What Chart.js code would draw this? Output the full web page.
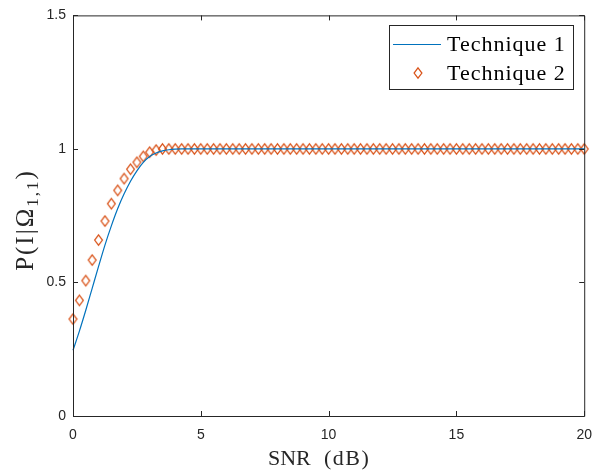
<!DOCTYPE html>
<html>
<head>
<meta charset="utf-8">
<script src="https://cdn.jsdelivr.net/npm/chart.js@4"></script>
<style>
  body { margin: 0; background: #fff; }
  #wrap { width: 603px; height: 471px; }
</style>
</head>
<body>
<div id="wrap"><canvas id="chart" width="603" height="471"></canvas></div>
<script>
const snrDb = [0, 0.25, 0.5, 0.75, 1, 1.25, 1.5, 1.75, 2, 2.25, 2.5, 2.75, 3, 3.25, 3.5, 3.75,
  4, 4.25, 4.5, 4.75, 5, 5.25, 5.5, 5.75, 6, 6.25, 6.5, 6.75, 7, 7.25, 7.5, 7.75,
  8, 8.25, 8.5, 8.75, 9, 9.25, 9.5, 9.75, 10, 10.25, 10.5, 10.75, 11, 11.25, 11.5, 11.75,
  12, 12.25, 12.5, 12.75, 13, 13.25, 13.5, 13.75, 14, 14.25, 14.5, 14.75, 15, 15.25, 15.5, 15.75,
  16, 16.25, 16.5, 16.75, 17, 17.25, 17.5, 17.75, 18, 18.25, 18.5, 18.75, 19, 19.25, 19.5, 19.75, 20];

const technique1 = [0.246, 0.318, 0.396, 0.478, 0.56, 0.64, 0.712, 0.777, 0.832, 0.879, 0.918, 0.95, 0.972, 0.985, 0.993, 0.997,
  0.999, 1, 1, 1, 1, 1, 1, 1, 1, 1, 1, 1, 1, 1, 1, 1,
  1, 1, 1, 1, 1, 1, 1, 1, 1, 1, 1, 1, 1, 1, 1, 1,
  1, 1, 1, 1, 1, 1, 1, 1, 1, 1, 1, 1, 1, 1, 1, 1,
  1, 1, 1, 1, 1, 1, 1, 1, 1, 1, 1, 1, 1, 1, 1, 1, 1];

const technique2 = [0.363, 0.433, 0.507, 0.584, 0.659, 0.73, 0.795, 0.845, 0.889, 0.924, 0.95, 0.972, 0.988, 0.996, 1, 1,
  1, 1, 1, 1, 1, 1, 1, 1, 1, 1, 1, 1, 1, 1, 1, 1,
  1, 1, 1, 1, 1, 1, 1, 1, 1, 1, 1, 1, 1, 1, 1, 1,
  1, 1, 1, 1, 1, 1, 1, 1, 1, 1, 1, 1, 1, 1, 1, 1,
  1, 1, 1, 1, 1, 1, 1, 1, 1, 1, 1, 1, 1, 1, 1, 1, 1];

const seriesLabels = ['Technique 1', 'Technique 2'];
const xTicks = [0, 5, 10, 15, 20];
const yTicks = [0, 0.5, 1, 1.5];

const axisColor = '#262626';
const serif = '"Liberation Serif", "DejaVu Serif", serif';
const sans = '"Liberation Sans", Arial, sans-serif';
const blue = '#0072BD';
const orange = '#D95319';

// MATLAB diamond marker: a bit taller than wide
function diamondPath(ctx, cx, cy) {
  ctx.beginPath();
  ctx.moveTo(cx, cy - 5.2);
  ctx.lineTo(cx + 3.9, cy);
  ctx.lineTo(cx, cy + 5.2);
  ctx.lineTo(cx - 3.9, cy);
  ctx.closePath();
}
const diamond = document.createElement('canvas');
diamond.width = 11; diamond.height = 14;
(function () {
  const c = diamond.getContext('2d');
  c.strokeStyle = orange;
  c.lineWidth = 1.25;
  diamondPath(c, 5.5, 7);
  c.stroke();
})();

function spacedText(ctx, text, x, y, spacing) {
  ctx.letterSpacing = spacing + 'px';
  ctx.fillText(text, x, y);
  const w = ctx.measureText(text).width;
  ctx.letterSpacing = '0px';
  return w;
}

const matlabPlugin = {
  id: 'matlab',
  afterDraw(chart) {
    const ctx = chart.ctx;
    const a = chart.chartArea;
    const xs = chart.scales.x, ys = chart.scales.y;
    ctx.save();
    ctx.strokeStyle = axisColor;
    ctx.lineWidth = 1;
    ctx.beginPath();
    ctx.rect(a.left + 0.5, a.top + 0.5, a.right - a.left, a.bottom - a.top);
    xTicks.forEach(v => {
      const px = Math.round(xs.getPixelForValue(v)) + 0.5;
      ctx.moveTo(px, a.bottom); ctx.lineTo(px, a.bottom - 5);
      ctx.moveTo(px, a.top); ctx.lineTo(px, a.top + 5);
    });
    yTicks.forEach(v => {
      const py = Math.round(ys.getPixelForValue(v)) + 0.5;
      ctx.moveTo(a.left, py); ctx.lineTo(a.left + 5, py);
      ctx.moveTo(a.right, py); ctx.lineTo(a.right - 5, py);
    });
    ctx.stroke();

    // x axis title
    ctx.fillStyle = axisColor;
    ctx.textBaseline = 'alphabetic';
    ctx.textAlign = 'left';
    ctx.font = '22px ' + serif;
    spacedText(ctx, 'SNR', 268, 465, 0);
    spacedText(ctx, '(dB)', 324, 465, 1.5);

    // y axis title: P(I|Ω_{1,1})
    ctx.save();
    ctx.translate(33, 220);
    ctx.rotate(-Math.PI / 2);
    const big = '25px ' + serif, small = '17px ' + serif;
    ctx.font = big;
    ctx.letterSpacing = '2px';
    const p1 = 'P(I|Ω';
    const w1 = ctx.measureText(p1).width;
    ctx.font = small;
    const w2 = ctx.measureText('1,1').width;
    ctx.font = big;
    const w3 = ctx.measureText(')').width;
    const x0 = -(w1 + w2 + w3) / 2;
    ctx.fillText(p1, x0, 0);
    ctx.font = small;
    ctx.fillText('1,1', x0 + w1, 5);
    ctx.font = big;
    ctx.fillText(')', x0 + w1 + w2, 0);
    ctx.restore();
    ctx.restore();

    // legend
    ctx.save();
    const lx = 389, ly = 25, lw = 184, lh = 64;
    ctx.fillStyle = '#fff';
    ctx.fillRect(lx, ly, lw, lh);
    ctx.strokeStyle = axisColor;
    ctx.lineWidth = 1;
    ctx.strokeRect(lx + 0.5, ly + 0.5, lw, lh);
    ctx.font = '22px ' + serif;
    ctx.textBaseline = 'middle';
    chart.data.datasets.forEach((ds, i) => {
      const cy = ly + 19 + i * 29;
      ctx.strokeStyle = ds.borderColor;
      if (i === 0) {
        ctx.beginPath();
        ctx.moveTo(lx + 4, cy + 0.5); ctx.lineTo(lx + 52, cy + 0.5);
        ctx.stroke();
      } else {
        ctx.lineWidth = 1.25;
        diamondPath(ctx, lx + 29, cy);
        ctx.stroke();
        ctx.lineWidth = 1;
      }
      ctx.fillStyle = '#000';
      spacedText(ctx, ds.label, lx + 58, cy + 1, 1);
    });
    ctx.restore();
  }
};

new Chart(document.getElementById('chart'), {
  type: 'line',
  data: {
    datasets: [
      {
        label: seriesLabels[0],
        data: snrDb.map((x, i) => ({ x: x, y: technique1[i] })),
        borderColor: blue,
        borderWidth: 1.2,
        pointRadius: 0,
        cubicInterpolationMode: 'monotone',
        fill: false
      },
      {
        label: seriesLabels[1],
        data: snrDb.map((x, i) => ({ x: x, y: technique2[i] })),
        borderColor: orange,
        backgroundColor: 'rgba(0,0,0,0)',
        showLine: false,
        pointStyle: diamond,
        pointRadius: 5
      }
    ]
  },
  options: {
    responsive: false,
    animation: false,
    clip: false,
    layout: { padding: { top: 14, right: 16, left: 0, bottom: 0 } },
    plugins: { legend: { display: false }, tooltip: { enabled: false } },
    scales: {
      x: {
        type: 'linear',
        min: 0, max: 20,
        afterBuildTicks(scale) { scale.ticks = xTicks.map(v => ({ value: v })); },
        afterFit(scale) { scale.height = 55; },
        grid: { display: false, drawTicks: false },
        border: { display: false },
        ticks: { color: axisColor, padding: 11, font: { family: sans, size: 14 } }
      },
      y: {
        min: 0, max: 1.5,
        afterBuildTicks(scale) { scale.ticks = yTicks.map(v => ({ value: v })); },
        afterFit(scale) { scale.width = 73; },
        grid: { display: false, drawTicks: false },
        border: { display: false },
        ticks: { color: axisColor, padding: 7, font: { family: sans, size: 14 },
          callback: v => String(v) }
      }
    }
  },
  plugins: [matlabPlugin]
});
</script>
</body>
</html>
